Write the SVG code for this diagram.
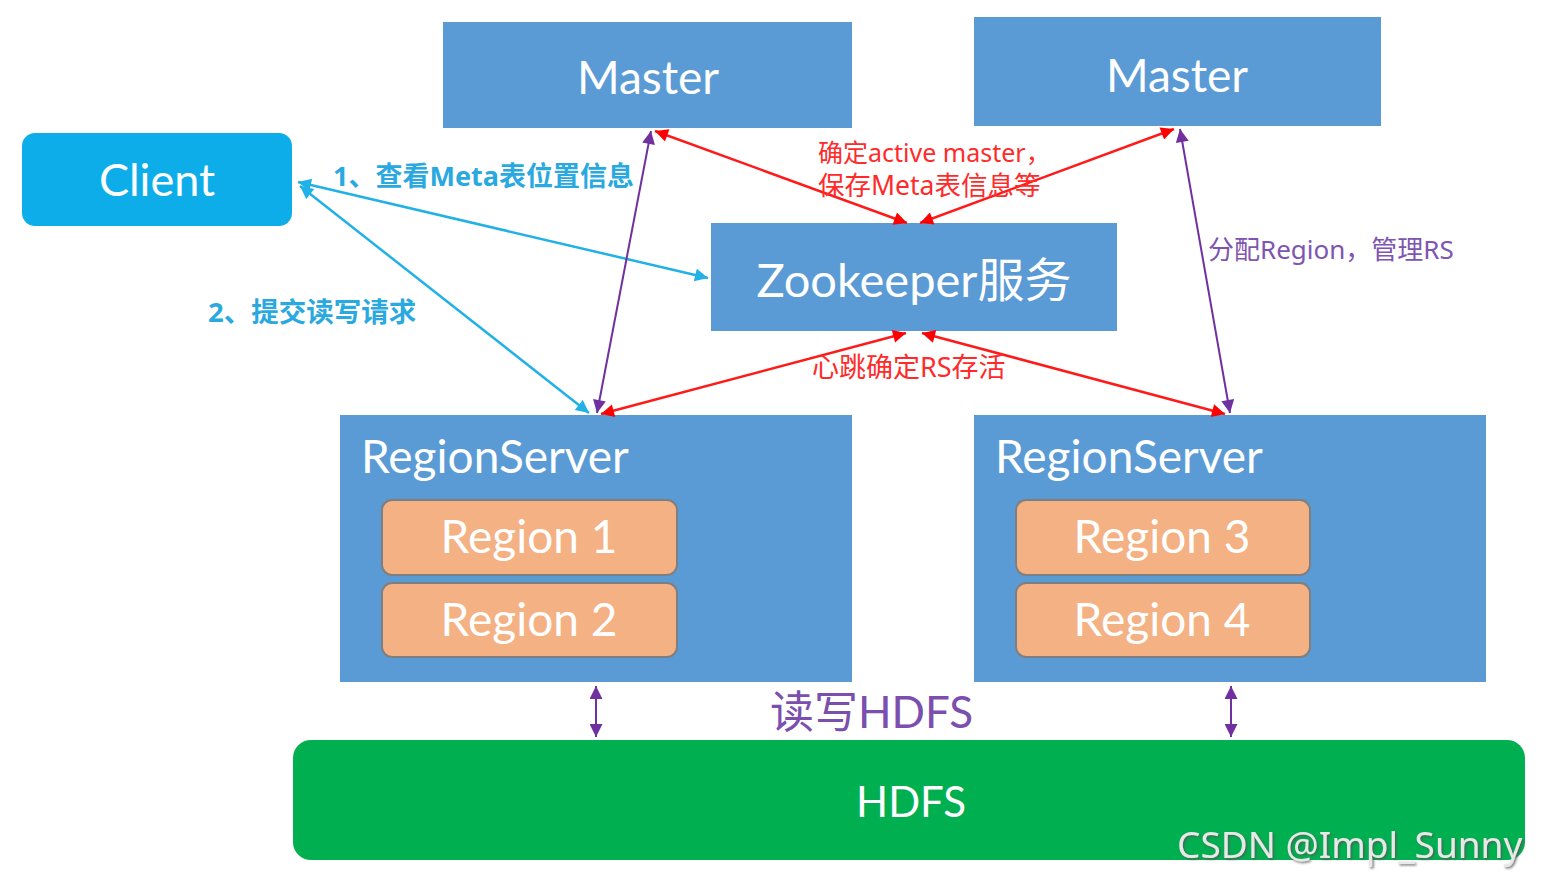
<svg xmlns="http://www.w3.org/2000/svg" width="1548" height="892" viewBox="0 0 1548 892">
<style>
.box{fill:#5b9bd5;}
.w{fill:#ffffff;font-family:Lato,"Noto Sans","Noto Sans CJK SC",sans-serif;}
.reg{fill:#f4b183;stroke:#7f7f7f;stroke-width:2;}
.cy{stroke:#22b1e6;stroke-width:2.5;fill:none;}
.pu{stroke:#7030a0;stroke-width:2;fill:none;}
.rd{stroke:#ff1a1a;stroke-width:2.5;fill:none;}
.lbl{font-family:"Noto Sans","Noto Sans CJK SC",sans-serif;}
</style>
<defs>
<marker id="ac" viewBox="0 0 10 10" refX="10" refY="5" markerUnits="userSpaceOnUse" markerWidth="15" markerHeight="13" orient="auto-start-reverse"><path d="M0,0 L10,5 L0,10 z" fill="#22b1e6"/></marker>
<marker id="ap" viewBox="0 0 10 10" refX="10" refY="5" markerUnits="userSpaceOnUse" markerWidth="15" markerHeight="13" orient="auto-start-reverse"><path d="M0,0 L10,5 L0,10 z" fill="#7030a0"/></marker>
<marker id="ar" viewBox="0 0 10 10" refX="10" refY="5" markerUnits="userSpaceOnUse" markerWidth="15" markerHeight="13" orient="auto-start-reverse"><path d="M0,0 L10,5 L0,10 z" fill="#ff0000"/></marker>
<filter id="sh" x="-5%" y="-20%" width="110%" height="140%"><feDropShadow dx="1.5" dy="1.5" stdDeviation="0.8" flood-color="#555555" flood-opacity="0.8"/></filter>
</defs>
<rect width="1548" height="892" fill="#ffffff"/>

<g id="master1"><rect class="box" x="443" y="22" width="409" height="106"/><text class="w" x="648" y="94" font-size="46" text-anchor="middle">Master</text></g>
<g id="master2"><rect class="box" x="974" y="17" width="407" height="109"/><text class="w" x="1177" y="92" font-size="46" text-anchor="middle">Master</text></g>
<g id="client"><rect x="22" y="133" width="270" height="93" rx="13" fill="#0dadea"/><text class="w" x="157" y="196" font-size="45" text-anchor="middle">Client</text></g>
<g id="zookeeper"><rect class="box" x="711" y="223" width="406" height="108"/><text class="w" x="914" y="297" font-size="47" text-anchor="middle">Zookeeper服务</text></g>

<g id="rs1"><rect class="box" x="340" y="415" width="512" height="267"/><text class="w" x="361" y="473" font-size="46">RegionServer</text>
<g id="region1"><rect class="reg" x="382" y="500" width="295" height="75" rx="10"/><text class="w" x="529" y="553" font-size="46" text-anchor="middle">Region 1</text></g>
<g id="region2"><rect class="reg" x="382" y="583" width="295" height="74" rx="10"/><text class="w" x="529" y="636" font-size="46" text-anchor="middle">Region 2</text></g>
</g>
<g id="rs2"><rect class="box" x="974" y="415" width="512" height="267"/><text class="w" x="995" y="473" font-size="46">RegionServer</text>
<g id="region3"><rect class="reg" x="1016" y="500" width="294" height="75" rx="10"/><text class="w" x="1162" y="553" font-size="46" text-anchor="middle">Region 3</text></g>
<g id="region4"><rect class="reg" x="1016" y="583" width="294" height="74" rx="10"/><text class="w" x="1162" y="636" font-size="46" text-anchor="middle">Region 4</text></g>
</g>

<g id="hdfs"><rect x="293" y="740" width="1232" height="120" rx="18" fill="#00b050"/><text class="w" x="911" y="817" font-size="42" text-anchor="middle">HDFS</text></g>

<g id="connectors">
<line class="cy" x1="298" y1="182" x2="708" y2="278" marker-start="url(#ac)" marker-end="url(#ac)"/>
<line class="cy" x1="300" y1="186" x2="589" y2="413" marker-start="url(#ac)" marker-end="url(#ac)"/>
<line class="pu" x1="651" y1="131" x2="597" y2="413" marker-start="url(#ap)" marker-end="url(#ap)"/>
<line class="pu" x1="1180" y1="129" x2="1230" y2="413" marker-start="url(#ap)" marker-end="url(#ap)"/>
<line class="rd" x1="655" y1="131" x2="907" y2="223" marker-start="url(#ar)" marker-end="url(#ar)"/>
<line class="rd" x1="1174" y1="129" x2="920" y2="223" marker-start="url(#ar)" marker-end="url(#ar)"/>
<line class="rd" x1="906" y1="333" x2="601" y2="414" marker-start="url(#ar)" marker-end="url(#ar)"/>
<line class="rd" x1="922" y1="333" x2="1225" y2="414" marker-start="url(#ar)" marker-end="url(#ar)"/>
<line class="pu" x1="596" y1="686" x2="596" y2="737" marker-start="url(#ap)" marker-end="url(#ap)"/>
<line class="pu" x1="1231" y1="686" x2="1231" y2="737" marker-start="url(#ap)" marker-end="url(#ap)"/>
</g>

<g id="labels">
<text class="lbl" x="333" y="186" font-size="27" fill="#2aa9e0" font-weight="bold">1、查看Meta表位置信息</text>
<text class="lbl" x="208" y="322" font-size="27.5" fill="#2aa9e0" font-weight="bold">2、提交读写请求</text>
<text class="lbl" x="818" y="162" font-size="25" fill="#ff2a2a">确定active master，</text>
<text class="lbl" x="818" y="195" font-size="26.5" fill="#ff2a2a">保存Meta表信息等</text>
<text class="lbl" x="1208" y="259" font-size="26" fill="#7e55b0">分配Region，管理RS</text>
<text class="lbl" x="812" y="377" font-size="27" fill="#ff2a2a">心跳确定RS存活</text>
<text x="770" y="728" fill="#7a4fae" font-family="Lato,'Noto Sans','Noto Sans CJK SC',sans-serif" font-size="44">读写HDFS</text>
<text x="1177" y="858" fill="#e8e8e8" font-family="'Noto Sans','Open Sans',sans-serif" font-size="37" filter="url(#sh)">CSDN @Impl_Sunny</text>
</g>
</svg>
